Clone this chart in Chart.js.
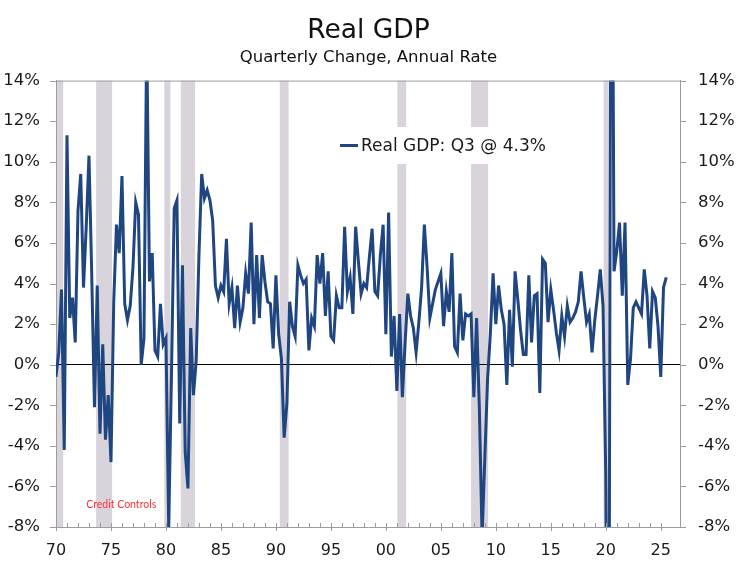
<!DOCTYPE html>
<html>
<head>
<meta charset="utf-8">
<title>Real GDP</title>
<script src="https://cdn.jsdelivr.net/npm/chart.js@4.4.1/dist/chart.umd.min.js"></script>
<style>
  html, body { margin: 0; padding: 0; background: #fff; }
  #wrap { width: 737px; height: 566px; }
</style>
</head>
<body>
<div id="wrap"><canvas id="gdp" width="737" height="566"></canvas></div>
<script>
// --- Data ---
const startYear = 1970;            // first quarter plotted is 1970 Q1
const seriesLabel = 'Real GDP: Q3 @ 4.3%';

// Real GDP, quarterly % change at an annual rate, 1970 Q1 .. 2025 Q3
const gdpGrowth = [
  -0.6, 0.6, 3.7, -4.2,    // 1970
  11.3, 2.3, 3.3, 1.1,     // 1971
  7.6, 9.4, 3.8, 6.8,      // 1972
  10.3, 4.4, -2.1, 3.9,    // 1973
  -3.4, 1.0, -3.7, -1.5,   // 1974
  -4.8, 3.1, 6.9, 5.5,     // 1975
  9.3, 3.0, 2.2, 2.9,      // 1976
  4.8, 8.0, 7.4, 0.0,      // 1977
  1.3, 16.4, 4.1, 5.5,     // 1978
  0.7, 0.4, 3.0, 1.0,      // 1979
  1.3, -8.0, -0.5, 7.7,    // 1980
  8.1, -2.9, 4.9, -4.3,    // 1981
  -6.1, 1.8, -1.5, 0.2,    // 1982
  5.4, 9.4, 8.2, 8.6,      // 1983
  8.1, 7.1, 3.9, 3.3,      // 1984
  3.9, 3.6, 6.2, 3.0,      // 1985
  3.8, 1.8, 3.9, 2.1,      // 1986
  2.8, 4.5, 3.5, 7.0,      // 1987
  2.0, 5.4, 2.3, 5.4,      // 1988
  4.1, 3.1, 3.0, 0.8,      // 1989
  4.4, 1.5, 0.3, -3.6,     // 1990
  -1.9, 3.1, 1.9, 1.4,     // 1991
  4.9, 4.4, 4.0, 4.2,      // 1992
  0.7, 2.3, 1.9, 5.4,      // 1993
  4.0, 5.5, 2.4, 4.6,      // 1994
  1.4, 1.2, 3.4, 2.8,      // 1995
  2.8, 6.8, 3.6, 4.3,      // 1996
  2.5, 6.8, 5.1, 3.5,      // 1997
  4.0, 3.8, 5.3, 6.7,      // 1998
  3.6, 3.4, 5.4, 6.9,      // 1999
  1.5, 7.5, 0.4, 2.4,      // 2000
  -1.3, 2.5, -1.6, 1.1,    // 2001
  3.5, 2.4, 1.8, 0.6,      // 2002
  2.1, 3.8, 6.9, 4.8,      // 2003
  2.3, 3.0, 3.7, 4.1,      // 2004
  4.5, 1.9, 3.6, 2.6,      // 2005
  5.5, 0.9, 0.6, 3.5,      // 2006
  1.2, 2.5, 2.4, 2.5,      // 2007
  -1.6, 2.3, -2.1, -8.5,   // 2008
  -4.6, -0.7, 1.5, 4.5,    // 2009
  2.0, 3.9, 2.7, 2.0,      // 2010
  -1.0, 2.7, -0.1, 4.6,    // 2011
  3.2, 1.7, 0.5, 0.5,      // 2012
  4.4, 1.1, 3.4, 3.5,      // 2013
  -1.4, 5.2, 5.0, 2.1,     // 2014
  3.7, 2.7, 1.6, 0.7,      // 2015
  2.4, 1.4, 2.9, 2.1,      // 2016
  2.3, 2.6, 3.1, 4.6,      // 2017
  3.3, 2.1, 2.5, 0.6,      // 2018
  2.2, 3.4, 4.7, 2.9,      // 2019
  -5.5, -28.0, 35.2, 4.6,  // 2020
  5.6, 7.0, 3.4, 7.0,      // 2021
  -1.0, 0.3, 2.8, 3.1,     // 2022
  2.8, 2.5, 4.7, 3.4,      // 2023
  0.8, 3.6, 3.3, 1.9,      // 2024
  -0.6, 3.8, 4.3           // 2025
];

// recession periods (fractional years)
const recessionStart = [1969.9, 1973.65, 1979.85, 1981.35, 1990.35, 2001.05, 2007.75, 2019.8];
const recessionEnd   = [1970.65, 1975.1, 1980.4, 1982.65, 1991.15, 2001.85, 2009.3, 2020.2];

const yTicks = [-8, -6, -4, -2, 0, 2, 4, 6, 8, 10, 12, 14];
const xMin = 1970, xMax = 2026.75;
const noteText = 'Credit Controls';

// --- Styling ---
const FONT = '"DejaVu Sans", Verdana, sans-serif';
const lineColor = '#1f4681';
const axisGray = '#9c9c9c';
const shadeColor = '#d9d4dc';

const points = gdpGrowth.map((v, i) => ({ x: startYear + i / 4, y: v }));

// recession bars + frame, ticks, legend box, annotation
const decorPlugin = {
  id: 'decor',
  beforeDraw(chart) {
    const { ctx, chartArea: a, scales: { x } } = chart;
    ctx.save();
    ctx.fillStyle = shadeColor;
    recessionStart.forEach((s, i) => {
      const x0 = Math.max(x.getPixelForValue(s), a.left);
      const x1 = x.getPixelForValue(recessionEnd[i]);
      ctx.fillRect(x0, a.top, x1 - x0, a.bottom - a.top);
    });
    ctx.restore();
  },
  afterDatasetsDraw(chart) {
    const { ctx, chartArea: a, scales: { x, y } } = chart;
    ctx.save();
    // top frame line
    ctx.strokeStyle = axisGray;
    ctx.lineWidth = 1;
    ctx.beginPath();
    ctx.moveTo(a.left, a.top + 0.5);
    ctx.lineTo(a.right, a.top + 0.5);
    ctx.stroke();

    // year ticks: minor point up into the plot, majors cross the axis
    ctx.beginPath();
    x.ticks.forEach(t => {
      const px = Math.round(x.getPixelForValue(t.value)) + 0.5;
      const major = t.value % 5 === 0;
      ctx.moveTo(px, a.bottom - 4);
      ctx.lineTo(px, a.bottom + (major ? 4 : 0));
    });
    // value ticks on both sides, pointing out
    yTicks.forEach(v => {
      const py = Math.round(y.getPixelForValue(v)) + 0.5;
      ctx.moveTo(a.left - 6, py);
      ctx.lineTo(a.left, py);
      ctx.moveTo(a.right, py);
      ctx.lineTo(a.right + 6, py);
    });
    ctx.stroke();

    // legend box
    const lx = 330, ly = 127, lw = 252, lh = 37;
    ctx.fillStyle = '#fff';
    ctx.fillRect(lx, ly, lw, lh);
    ctx.strokeStyle = lineColor;
    ctx.lineWidth = 3;
    ctx.beginPath();
    ctx.moveTo(lx + 10, ly + lh / 2);
    ctx.lineTo(lx + 28, ly + lh / 2);
    ctx.stroke();
    ctx.fillStyle = '#1a1a1a';
    ctx.font = '17px ' + FONT;
    ctx.textBaseline = 'middle';
    ctx.fillText(chart.data.datasets[0].label, lx + 31, ly + lh / 2 + 1);

    // annotation
    ctx.fillStyle = '#ff3030';
    ctx.font = '10.5px Lato, "Open Sans", sans-serif';
    ctx.fillText(noteText, x.getPixelForValue(1972.75), y.getPixelForValue(-6.9));
    ctx.restore();
  }
};

new Chart(document.getElementById('gdp'), {
  type: 'line',
  data: {
    datasets: [{
      label: seriesLabel,
      data: points,
      borderColor: lineColor,
      borderWidth: 3,
      pointRadius: 0,
      tension: 0,
      fill: false
    }]
  },
  options: {
    responsive: false,
    animation: false,
    layout: { padding: 0 },
    plugins: {
      legend: { display: false },
      tooltip: { enabled: false },
      title: {
        display: true,
        text: 'Real GDP',
        color: '#111',
        font: { family: FONT, size: 26.5, weight: 'normal' },
        padding: { top: 15, bottom: 1 }
      },
      subtitle: {
        display: true,
        text: 'Quarterly Change, Annual Rate',
        color: '#111',
        font: { family: FONT, size: 16.5 },
        padding: { top: 0, bottom: 13 }
      }
    },
    scales: {
      x: {
        type: 'linear',
        min: xMin,
        max: xMax,
        afterFit: s => { s.height = 39; },
        afterBuildTicks: s => { s.ticks = s.ticks.filter(t => Number.isInteger(t.value)); },
        ticks: {
          stepSize: 1,
          autoSkip: false,
          maxRotation: 0,
          padding: 14,
          color: '#1a1a1a',
          font: { family: FONT, size: 16 },
          callback: v => (v % 5 === 0 ? String(v).slice(-2) : '')
        },
        grid: { display: false, drawTicks: false },
        border: { color: axisGray }
      },
      y: {
        position: 'left',
        min: -8,
        max: 14,
        afterFit: s => { s.width = 56; },
        ticks: {
          stepSize: 2,
          padding: 16,
          color: '#1a1a1a',
          font: { family: FONT, size: 16.5 },
          callback: v => v + '%'
        },
        grid: {
          drawTicks: false,
          color: c => (c.tick && c.tick.value === 0 ? '#000' : 'rgba(0,0,0,0)'),
          lineWidth: 1
        },
        border: { color: axisGray }
      },
      y2: {
        position: 'right',
        min: -8,
        max: 14,
        afterFit: s => { s.width = 57; },
        ticks: {
          stepSize: 2,
          padding: 18,
          color: '#1a1a1a',
          font: { family: FONT, size: 16.5 },
          callback: v => v + '%'
        },
        grid: { display: false, drawTicks: false },
        border: { color: axisGray }
      }
    }
  },
  plugins: [decorPlugin]
});
</script>
</body>
</html>
